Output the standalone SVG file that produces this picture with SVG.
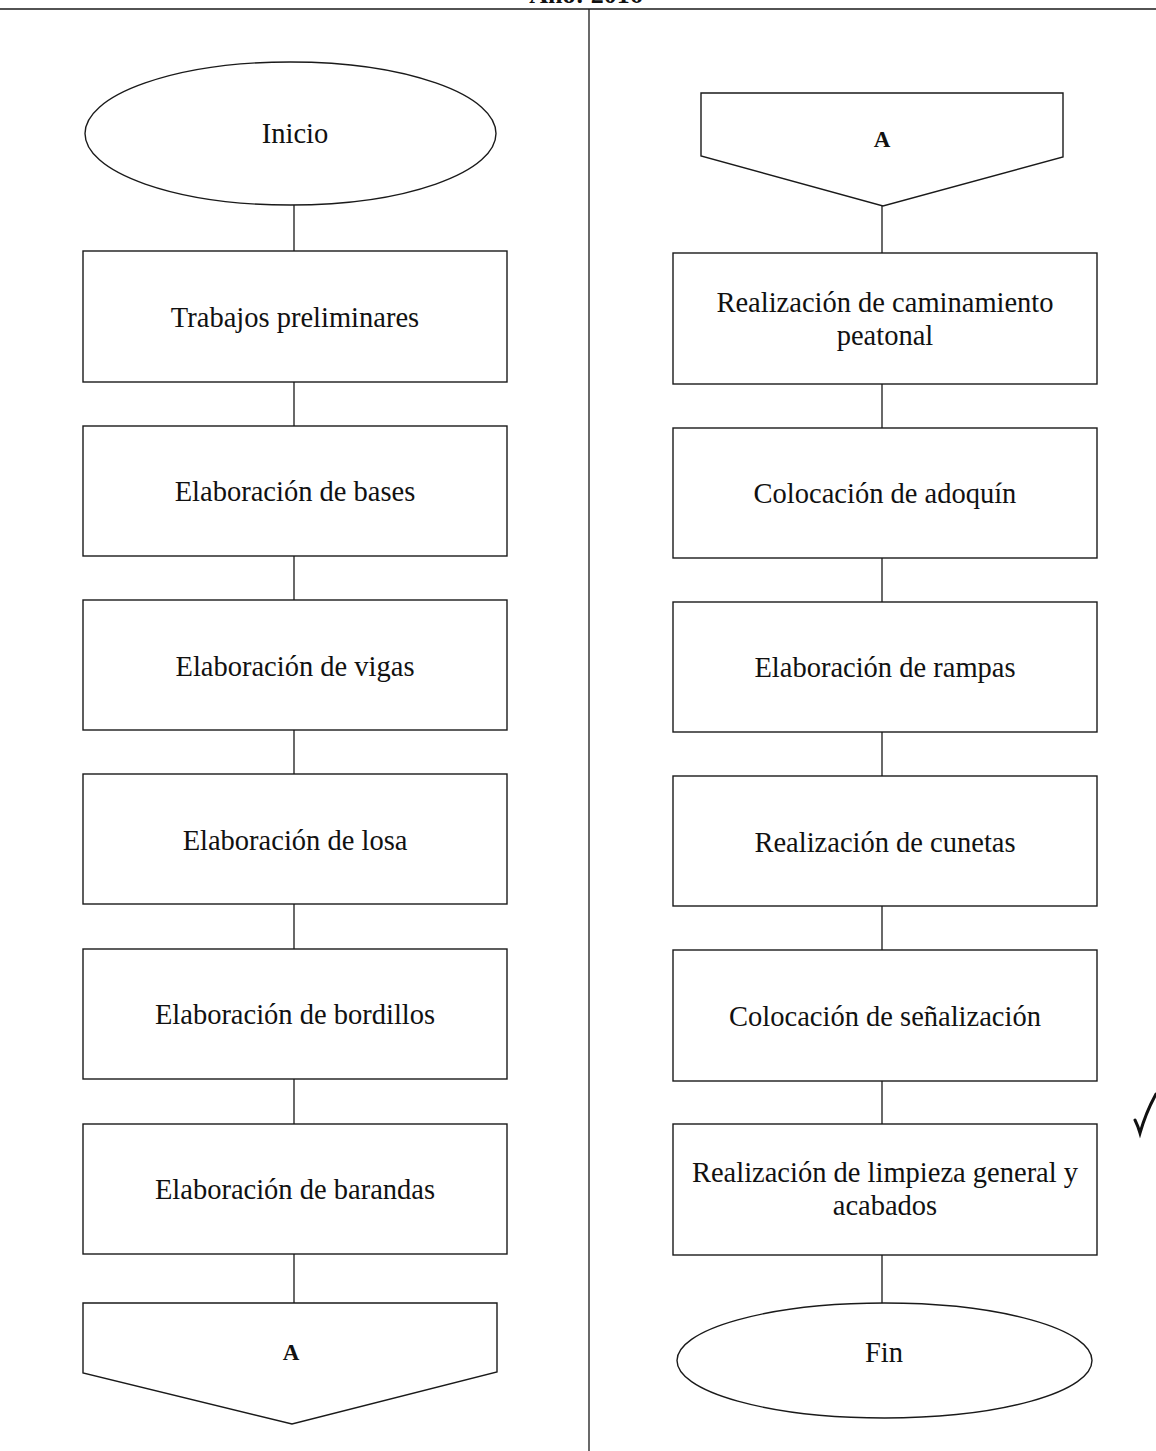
<svg xmlns="http://www.w3.org/2000/svg" width="1156" height="1451" viewBox="0 0 1156 1451">
<style>
.s{fill:#fff;stroke:#1a1a1a;stroke-width:1.4}
.c{stroke:#1a1a1a;stroke-width:1.3;fill:none}
.t{font-family:"Liberation Serif","Times New Roman",serif;font-size:28.5px;fill:#111;text-anchor:middle}
.b{font-family:"Liberation Serif","Times New Roman",serif;font-size:23px;font-weight:bold;fill:#111;text-anchor:middle}
</style>
<rect x="0" y="0" width="1156" height="1451" fill="#fff"/>
<text x="586" y="3" class="b" style="font-size:26px">Año: 2016</text>
<g id="frame" class="c">
<line x1="0" y1="9" x2="1156" y2="9"/>
<line x1="589" y1="9" x2="589" y2="1451"/>
</g>
<g id="connectors" class="c">
<line x1="294" y1="205" x2="294" y2="251"/>
<line x1="294" y1="382" x2="294" y2="426"/>
<line x1="294" y1="556" x2="294" y2="600"/>
<line x1="294" y1="730" x2="294" y2="774"/>
<line x1="294" y1="904" x2="294" y2="949"/>
<line x1="294" y1="1079" x2="294" y2="1124"/>
<line x1="294" y1="1254" x2="294" y2="1303"/>
<line x1="882" y1="206" x2="882" y2="253"/>
<line x1="882" y1="384" x2="882" y2="428"/>
<line x1="882" y1="558" x2="882" y2="602"/>
<line x1="882" y1="732" x2="882" y2="776"/>
<line x1="882" y1="906" x2="882" y2="950"/>
<line x1="882" y1="1081" x2="882" y2="1124"/>
<line x1="882" y1="1255" x2="882" y2="1303"/>
</g>
<g id="inicio"><ellipse class="s" cx="290.5" cy="133.5" rx="205.5" ry="71.5"/><text class="t" x="295" y="143">Inicio</text></g>
<g id="n1"><rect class="s" x="83" y="251" width="424" height="131"/><text class="t" x="295" y="327">Trabajos preliminares</text></g>
<g id="n2"><rect class="s" x="83" y="426" width="424" height="130"/><text class="t" x="295" y="501">Elaboración de bases</text></g>
<g id="n3"><rect class="s" x="83" y="600" width="424" height="130"/><text class="t" x="295" y="676">Elaboración de vigas</text></g>
<g id="n4"><rect class="s" x="83" y="774" width="424" height="130"/><text class="t" x="295" y="850">Elaboración de losa</text></g>
<g id="n5"><rect class="s" x="83" y="949" width="424" height="130"/><text class="t" x="295" y="1024">Elaboración de bordillos</text></g>
<g id="n6"><rect class="s" x="83" y="1124" width="424" height="130"/><text class="t" x="295" y="1199">Elaboración de barandas</text></g>
<g id="offA1"><polygon class="s" points="83,1303 497,1303 497,1372 292,1424 83,1373"/><text class="b" x="291" y="1360">A</text></g>
<g id="offA2"><polygon class="s" points="701,93 1063,93 1063,157 883,206 701,156"/><text class="b" x="882" y="147">A</text></g>
<g id="m1"><rect class="s" x="673" y="253" width="424" height="131"/><text class="t" x="885" y="312">Realización de caminamiento</text><text class="t" x="885" y="345">peatonal</text></g>
<g id="m2"><rect class="s" x="673" y="428" width="424" height="130"/><text class="t" x="885" y="503">Colocación de adoquín</text></g>
<g id="m3"><rect class="s" x="673" y="602" width="424" height="130"/><text class="t" x="885" y="677">Elaboración de rampas</text></g>
<g id="m4"><rect class="s" x="673" y="776" width="424" height="130"/><text class="t" x="885" y="852">Realización de cunetas</text></g>
<g id="m5"><rect class="s" x="673" y="950" width="424" height="131"/><text class="t" x="885" y="1026">Colocación de señalización</text></g>
<g id="m6"><rect class="s" x="673" y="1124" width="424" height="131"/><text class="t" x="885" y="1182">Realización de limpieza general y</text><text class="t" x="885" y="1215">acabados</text></g>
<g id="fin"><ellipse class="s" cx="884.5" cy="1360.5" rx="207.5" ry="57.5"/><text class="t" x="884" y="1362">Fin</text></g>
<path id="check" d="M1135,1120 Q1138,1126 1140,1133 Q1146,1112 1156,1094" fill="none" stroke="#111" stroke-width="3" stroke-linecap="round"/>
</svg>
